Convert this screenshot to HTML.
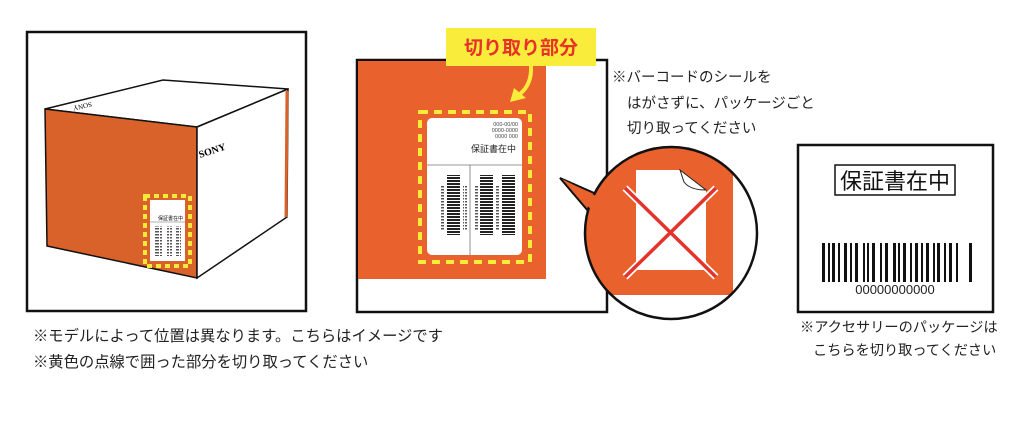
<!DOCTYPE html>
<html><head><meta charset="utf-8"><style>
html,body{margin:0;padding:0;background:#fff;}
svg{display:block;font-family:"Liberation Sans","Noto Sans CJK JP",sans-serif;}
</style></head><body>
<svg width="1024" height="437" viewBox="0 0 1024 437" xmlns="http://www.w3.org/2000/svg">
<defs>
<pattern id="hb" width="14" height="3" patternUnits="userSpaceOnUse"><rect width="14" height="2" fill="#222"/></pattern>
<pattern id="hs" width="5" height="3" patternUnits="userSpaceOnUse"><rect width="4" height="1.5" fill="#555"/></pattern>
</defs>
<!-- Box 1 -->
<rect x="27" y="32" width="279" height="279" fill="#fff" stroke="#111" stroke-width="2.5"/>
<polygon points="45,109 163,80 288,89 197,127" fill="#fff" stroke="#111" stroke-width="1.5"/>
<polygon points="45,109 197,127 197,278 47,246" fill="#d9622b" stroke="#111" stroke-width="1.5"/>
<polygon points="197,127 288,89 287,217 197,278" fill="#fff" stroke="#111" stroke-width="1.5"/>
<line x1="287" y1="91" x2="286" y2="217" stroke="#d9622b" stroke-width="3"/>
<text x="200" y="158" font-size="10" font-family="Liberation Serif,serif" font-weight="bold" transform="rotate(-18 200 158)">SONY</text>
<text x="72" y="108" font-size="7" font-family="Liberation Serif,serif" transform="rotate(168 82 106)">SONY</text>
<rect x="145" y="196" width="45" height="70" fill="none" stroke="#f5e93a" stroke-width="4" stroke-dasharray="5,4"/>
<rect x="150" y="200" width="35" height="61" fill="#fff"/>
<text x="183" y="220" font-size="5" text-anchor="end">保証書在中</text>
<line x1="150" y1="222" x2="185" y2="222" stroke="#666" stroke-width="0.6"/>
<rect x="155" y="226" width="7" height="30" fill="url(#hs)"/>
<rect x="167" y="226" width="5" height="30" fill="url(#hs)"/>
<rect x="176" y="226" width="5" height="30" fill="url(#hs)"/>
<!-- Box 2 -->
<rect x="357" y="60" width="250" height="252" fill="#fff" stroke="#111" stroke-width="2.5"/>
<rect x="358" y="61" width="188" height="218" fill="#e9612d"/>
<rect x="446" y="28" width="150" height="38" fill="#f9ec3b"/>
<text x="521" y="54" font-size="19" font-weight="bold" fill="#e9302a" text-anchor="middle">切り取り部分</text>
<path d="M531,66 Q532,84 520,94" fill="none" stroke="#f9ec3b" stroke-width="4"/>
<polygon points="510,102 514,88 526,98" fill="#f9ec3b"/>
<rect x="420" y="112" width="110" height="150" fill="none" stroke="#f9ec3b" stroke-width="4" stroke-dasharray="8,6"/>
<rect x="427" y="118" width="95" height="137" rx="5" fill="#fff"/>
<text x="518" y="126" font-size="5.5" fill="#444" text-anchor="end">000-00/00</text>
<text x="518" y="132" font-size="5.5" fill="#444" text-anchor="end">0000-0000</text>
<text x="518" y="138" font-size="5.5" fill="#444" text-anchor="end">0000 000</text>
<text x="516" y="152" font-size="9" fill="#222" text-anchor="end">保証書在中</text>
<line x1="427" y1="165" x2="522" y2="165" stroke="#777" stroke-width="0.8"/>
<line x1="470" y1="165" x2="470" y2="255" stroke="#777" stroke-width="0.8"/>
<rect x="441" y="185" width="4" height="45" fill="url(#hs)"/>
<rect x="447" y="175" width="13" height="60" fill="url(#hb)"/>
<rect x="463" y="185" width="4" height="45" fill="url(#hs)"/>
<rect x="474" y="185" width="4" height="45" fill="url(#hs)"/>
<rect x="480" y="175" width="13" height="60" fill="url(#hb)"/>
<rect x="496" y="185" width="4" height="45" fill="url(#hs)"/>
<rect x="502" y="175" width="13" height="60" fill="url(#hb)"/>
<!-- Callout circle -->
<clipPath id="cc"><circle cx="671" cy="233" r="86"/></clipPath>
<polygon points="560,178 610,200 600,225" fill="#e9612d" stroke="#111" stroke-width="2"/>
<circle cx="671" cy="233" r="86" fill="#fff"/>
<g clip-path="url(#cc)">
<rect x="570" y="140" width="163" height="155" fill="#e9612d"/>
<path d="M636,170 L680,170 L706,190 L706,270 L636,270 Z" fill="#fff"/>
<path d="M680,170 L684,182 Q690,190 706,190 Z" fill="#fff" stroke="#222" stroke-width="1"/>
<g stroke="#fff" stroke-width="7"><line x1="625" y1="188" x2="716" y2="277"/><line x1="716" y1="188" x2="625" y2="277"/></g>
<g stroke="#e3332b" stroke-width="3.5"><line x1="625" y1="188" x2="716" y2="277"/><line x1="716" y1="188" x2="625" y2="277"/></g>
</g>
<circle cx="671" cy="233" r="86" fill="none" stroke="#111" stroke-width="2.5"/>
<polygon points="562,179 608,202 603,222" fill="#e9612d"/>
<g font-size="14.5" fill="#222">
<text x="612" y="82">※バーコードのシールを</text>
<text x="627" y="108">はがさずに、パッケージごと</text>
<text x="627" y="133">切り取ってください</text>
</g>
<!-- Box 3 -->
<rect x="798" y="145" width="195" height="167" fill="#fff" stroke="#111" stroke-width="2.5"/>
<rect x="835" y="165" width="120" height="30" fill="#fff" stroke="#111" stroke-width="1.5"/>
<text x="895" y="189" font-size="22" fill="#111" text-anchor="middle">保証書在中</text>
<g fill="#111">
<rect x="822" y="243" width="3" height="39"/><rect x="828" y="243" width="2" height="39"/><rect x="832" y="243" width="3" height="39"/><rect x="838" y="243" width="2" height="39"/>
<rect x="844" y="243" width="3" height="39"/><rect x="850" y="243" width="2" height="39"/><rect x="855" y="243" width="3" height="39"/>
<rect x="863" y="243" width="2" height="39"/><rect x="867" y="243" width="2" height="39"/><rect x="872" y="243" width="3" height="39"/>
<rect x="880" y="243" width="2" height="39"/><rect x="885" y="243" width="3" height="39"/><rect x="893" y="243" width="3" height="39"/>
<rect x="898" y="243" width="2" height="39"/><rect x="903" y="243" width="3" height="39"/><rect x="910" y="243" width="2" height="39"/>
<rect x="915" y="243" width="3" height="39"/><rect x="921" y="243" width="2" height="39"/><rect x="926" y="243" width="3" height="39"/>
<rect x="933" y="243" width="2" height="39"/><rect x="937" y="243" width="3" height="39"/><rect x="944" y="243" width="2" height="39"/>
<rect x="949" y="243" width="3" height="39"/><rect x="956" y="243" width="2" height="39"/><rect x="969" y="243" width="3" height="39"/>
</g>
<text x="895" y="294" font-size="13" fill="#222" text-anchor="middle">00000000000</text>
<g font-size="14.2" fill="#222">
<text x="800" y="332">※アクセサリーのパッケージは</text>
<text x="813" y="355">こちらを切り取ってください</text>
</g>
<!-- Notes -->
<g font-size="15.3" fill="#222">
<text x="33" y="341">※モデルによって位置は異なります。こちらはイメージです</text>
<text x="33" y="367">※黄色の点線で囲った部分を切り取ってください</text>
</g>
</svg>
</body></html>
